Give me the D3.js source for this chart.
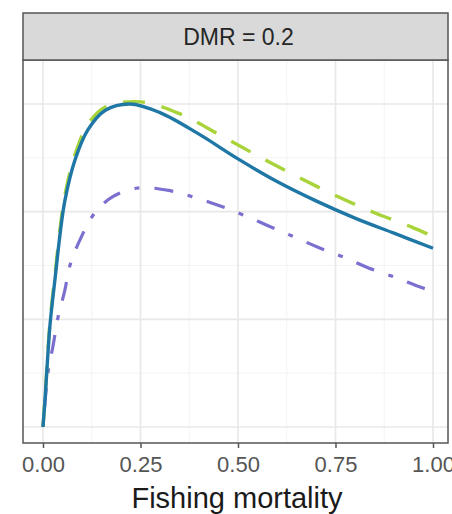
<!DOCTYPE html>
<html lang="en">
<head>
  <meta charset="UTF-8">
  <title>DMR = 0.2</title>
  <script src="https://d3js.org/d3.v7.min.js"></script>
  <style>
    body { margin: 0; background: #fff; }
    svg { display: block; font-family: "Liberation Sans", Arial, sans-serif; }
  </style>
</head>
<body>
  <svg id="chart" width="452" height="514"></svg>

  <script>
    // fishing mortality values and yields
    const fBlue = [0, 0.006, 0.018, 0.031, 0.044, 0.056, 0.082, 0.115, 0.159, 0.223, 0.3, 0.4, 0.5, 0.6, 0.7, 0.8, 0.9, 1.0];
    const yBlue = [0, 0.30, 0.95, 1.38, 1.80, 2.10, 2.48, 2.76, 2.94, 3.0, 2.92, 2.72, 2.49, 2.28, 2.10, 1.94, 1.80, 1.66];

    const fGreen = [0, 0.006, 0.018, 0.031, 0.044, 0.056, 0.082, 0.115, 0.159, 0.25, 0.35, 0.45, 0.55, 0.65, 0.75, 0.85, 0.95, 1.0];
    const yGreen = [0, 0.32, 0.98, 1.42, 1.85, 2.15, 2.53, 2.81, 2.97, 3.02, 2.91, 2.72, 2.52, 2.33, 2.15, 1.99, 1.85, 1.77];

    const fPurple = [0, 0.013, 0.026, 0.038, 0.056, 0.069, 0.095, 0.133, 0.179, 0.244, 0.318, 0.382, 0.449, 0.513, 0.577, 0.641, 0.705, 0.769, 0.833, 0.903, 0.967, 1.0];
    const yPurple = [0, 0.51, 0.76, 1.01, 1.27, 1.50, 1.74, 1.99, 2.14, 2.22, 2.20, 2.14, 2.06, 1.97, 1.87, 1.77, 1.67, 1.58, 1.48, 1.39, 1.30, 1.26];

    const xTicks = [0, 0.25, 0.5, 0.75, 1];
    const xMinor = [0.125, 0.375, 0.625, 0.875];
    const yMajor = [0, 1, 2, 3];
    const yMinor = [0.5, 1.5, 2.5];
    const stripLabel = "DMR = 0.2";
    const xTitle = "Fishing mortality";

    const svg = d3.select("#chart");

    const panel = { left: 23, right: 448, top: 60, bottom: 443 };
    const strip = { top: 13, bottom: 60 };

    const x = d3.scaleLinear().domain([0, 1]).range([43, 433]);
    const y = d3.scaleLinear().domain([0, 3]).range([427, 104]);

    // panel background
    svg.append("rect")
      .attr("x", panel.left).attr("y", panel.top)
      .attr("width", panel.right - panel.left).attr("height", panel.bottom - panel.top)
      .attr("fill", "#fff");

    const grid = svg.append("g");
    grid.selectAll(".vminor").data(xMinor).enter().append("line")
      .attr("x1", d => x(d)).attr("x2", d => x(d))
      .attr("y1", panel.top).attr("y2", panel.bottom)
      .attr("stroke", "#f3f3f3").attr("stroke-width", 1);
    grid.selectAll(".hminor").data(yMinor).enter().append("line")
      .attr("x1", panel.left).attr("x2", panel.right)
      .attr("y1", d => y(d)).attr("y2", d => y(d))
      .attr("stroke", "#f3f3f3").attr("stroke-width", 1);
    grid.selectAll(".vmajor").data(xTicks).enter().append("line")
      .attr("x1", d => x(d)).attr("x2", d => x(d))
      .attr("y1", panel.top).attr("y2", panel.bottom)
      .attr("stroke", "#e8e8e8").attr("stroke-width", 1.6);
    grid.selectAll(".hmajor").data(yMajor).enter().append("line")
      .attr("x1", panel.left).attr("x2", panel.right)
      .attr("y1", d => y(d)).attr("y2", d => y(d))
      .attr("stroke", "#e8e8e8").attr("stroke-width", 1.6);

    const line = d3.line().curve(d3.curveCatmullRom.alpha(0.5));
    const series = [
      { f: fPurple, v: yPurple, color: "#7b70cf", dash: "5,15,19,15", width: 3.2 },
      { f: fGreen, v: yGreen, color: "#a8d43a", dash: "22,17", width: 3.4 },
      { f: fBlue, v: yBlue, color: "#1f77a6", dash: null, width: 3.4 }
    ];

    series.forEach(s => {
      const pts = s.f.map((f, i) => [x(f), y(s.v[i])]);
      svg.append("path")
        .attr("d", line(pts))
        .attr("fill", "none")
        .attr("stroke", s.color)
        .attr("stroke-width", s.width)
        .attr("stroke-dasharray", s.dash)
        .attr("stroke-linecap", "butt");
    });

    // panel border
    svg.append("rect")
      .attr("x", panel.left).attr("y", panel.top)
      .attr("width", panel.right - panel.left).attr("height", panel.bottom - panel.top)
      .attr("fill", "none").attr("stroke", "#555").attr("stroke-width", 1.5);

    // strip
    svg.append("rect")
      .attr("x", panel.left).attr("y", strip.top)
      .attr("width", panel.right - panel.left).attr("height", strip.bottom - strip.top)
      .attr("fill", "#d9d9d9").attr("stroke", "#555").attr("stroke-width", 1.5);
    svg.append("text")
      .attr("x", (panel.left + panel.right) / 2 + 3)
      .attr("y", (strip.top + strip.bottom) / 2 + 8)
      .attr("text-anchor", "middle")
      .attr("font-size", 23)
      .attr("fill", "#262626")
      .text(stripLabel);

    // x axis (last label runs off the right edge, as in the reference)
    const xAxis = svg.append("g")
      .attr("transform", `translate(0,${panel.bottom})`)
      .call(d3.axisBottom(x).tickValues(xTicks).tickFormat(d3.format(".2f")).tickSize(5).tickPadding(8));
    xAxis.select(".domain").remove();
    xAxis.selectAll("line").attr("stroke", "#555").attr("stroke-width", 1.5);
    xAxis.selectAll("text").attr("font-size", 22).attr("fill", "#555")
      .attr("font-family", "Liberation Sans, Arial, sans-serif");

    svg.append("text")
      .attr("x", 237).attr("y", 508)
      .attr("text-anchor", "middle")
      .attr("font-size", 29)
      .attr("fill", "#1a1a1a")
      .text(xTitle);
  </script>
</body>
</html>
